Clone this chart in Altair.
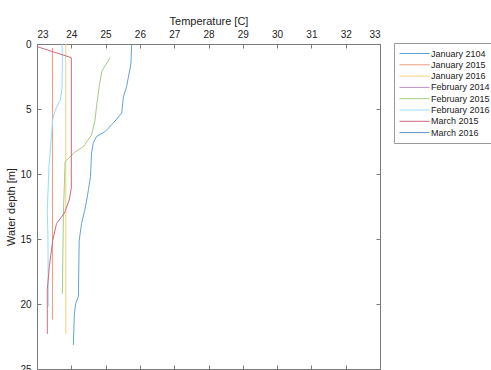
import altair as alt
import pandas as pd

FONT = "Liberation Sans"

series_names = ["January 2104", "January 2015", "January 2016", "February 2014",
                "February 2015", "February 2016", "March 2015", "March 2016"]
series_colors = ["#62a2da", "#ee9a7c", "#f6cf7c", "#bb8fc6",
                 "#a7cc7c", "#96dcf5", "#cc6a7d", "#6293c2"]

x_ticks = [23, 24, 25, 26, 27, 28, 29, 30, 31, 32, 33]
y_ticks = [0, 5, 10, 15, 20, 25]

jan2104_temp = [25.76, 25.74, 25.61, 25.52, 25.47, 25.30, 25.18, 24.98, 24.74, 24.64, 24.59,
                24.56, 24.50, 24.45, 24.39, 24.30, 24.23, 24.21, 24.21, 24.13, 24.09, 24.06]
jan2104_depth = [0.0, 1.5, 3.3, 4.05, 5.3, 5.85, 6.2, 6.75, 7.1, 7.6, 8.4,
                 10.2, 11.2, 12.0, 12.8, 13.8, 15.1, 18.9, 19.4, 19.95, 20.7, 23.15]

jan2015_temp = [23.45, 23.45]
jan2015_depth = [0.3, 21.2]

jan2016_temp = [23.84, 23.84]
jan2016_depth = [0.0, 22.3]

feb2015_temp = [25.13, 24.89, 24.82, 24.74, 24.69, 24.59, 24.35, 24.11, 23.82, 23.77, 23.74]
feb2015_depth = [1.05, 2.1, 3.15, 4.7, 5.9, 7.0, 7.9, 8.3, 9.05, 13.0, 19.2]

feb2016_temp = [23.73, 23.74, 23.73, 23.68, 23.53, 23.46, 23.35, 23.30, 23.32, 23.33]
feb2016_depth = [0.0, 1.5, 3.4, 4.3, 5.1, 5.8, 9.4, 12.8, 15.0, 20.2]

mar2015_temp = [23.0, 24.0, 24.0, 23.94, 23.80, 23.57, 23.46, 23.36, 23.30, 23.30]
mar2015_depth = [0.2, 1.05, 11.1, 12.0, 13.0, 13.8, 15.1, 17.1, 18.9, 22.3]

profiles = [
    ("January 2104", jan2104_temp, jan2104_depth),
    ("January 2015", jan2015_temp, jan2015_depth),
    ("January 2016", jan2016_temp, jan2016_depth),
    ("February 2015", feb2015_temp, feb2015_depth),
    ("February 2016", feb2016_temp, feb2016_depth),
    ("March 2015", mar2015_temp, mar2015_depth),
]

rows = []
for name, temps, depths in profiles:
    for i, (t, d) in enumerate(zip(temps, depths)):
        rows.append({"series": name, "temp": t, "depth": d, "idx": i})
df = pd.DataFrame(rows)

W, H = 343, 325
AX = "#7a7a7a"
TXT = "#222222"

xscale = alt.Scale(domain=[23, 33], nice=False, zero=False)
yscale = alt.Scale(domain=[0, 25], reverse=True, nice=False, zero=False)

legend = alt.Legend(
    title=None, orient="none", legendX=357, legendY=-1,
    strokeColor="#9a9a9a", fillColor="white", padding=5,
    labelFont=FONT, labelFontSize=9, labelColor=TXT, labelOffset=11,
    symbolType="M-3,0H3", symbolSize=100, symbolStrokeWidth=1,
    symbolOffset=10, rowPadding=0.3,
)

lines = alt.Chart(df).mark_line(strokeWidth=1, clip=True).encode(
    x=alt.X("temp:Q", scale=xscale, axis=alt.Axis(
        orient="top", values=x_ticks, title="Temperature [C]", grid=False,
        domain=False, offset=-4, tickSize=4, tickColor=AX, labelPadding=5,
        labelFont=FONT, labelFontSize=10, labelColor=TXT, format="d",
        titleFont=FONT, titleFontSize=11, titleFontWeight="normal", titleColor=TXT,
        titleY=-24, titleBaseline="alphabetic")),
    y=alt.Y("depth:Q", scale=yscale, axis=alt.Axis(
        orient="left", values=y_ticks, title="Water depth [m]", grid=False,
        domain=False, offset=-4, tickSize=4, tickColor=AX, labelPadding=6,
        labelFont=FONT, labelFontSize=10, labelColor=TXT, format="d",
        titleFont=FONT, titleFontSize=11, titleFontWeight="normal", titleColor=TXT,
        titleX=-30, titleBaseline="middle")),
    color=alt.Color("series:N", scale=alt.Scale(domain=series_names, range=series_colors),
                    legend=legend),
    order=alt.Order("idx:Q"),
)

mirror = alt.Chart(df).mark_line(opacity=0).encode(
    x=alt.X("temp:Q", scale=xscale, axis=alt.Axis(
        orient="bottom", values=x_ticks, labels=False, title=None, grid=False,
        domain=False, offset=-4, tickSize=4, tickColor=AX)),
    y=alt.Y("depth:Q", scale=yscale, axis=alt.Axis(
        orient="right", values=y_ticks, labels=False, title=None, grid=False,
        domain=False, offset=-4, tickSize=4, tickColor=AX)),
    detail="series:N",
    order=alt.Order("idx:Q"),
)

chart = alt.layer(lines, mirror).resolve_axis(x="independent", y="independent").properties(
    width=W, height=H,
    padding={"left": 37, "top": 44, "right": 111, "bottom": 30},
    autosize=alt.AutoSizeParams(type="none"),
    background="white",
).configure_view(stroke=AX, strokeWidth=1)

chart.save("out.html", embed_options={"renderer": "svg", "actions": False})
